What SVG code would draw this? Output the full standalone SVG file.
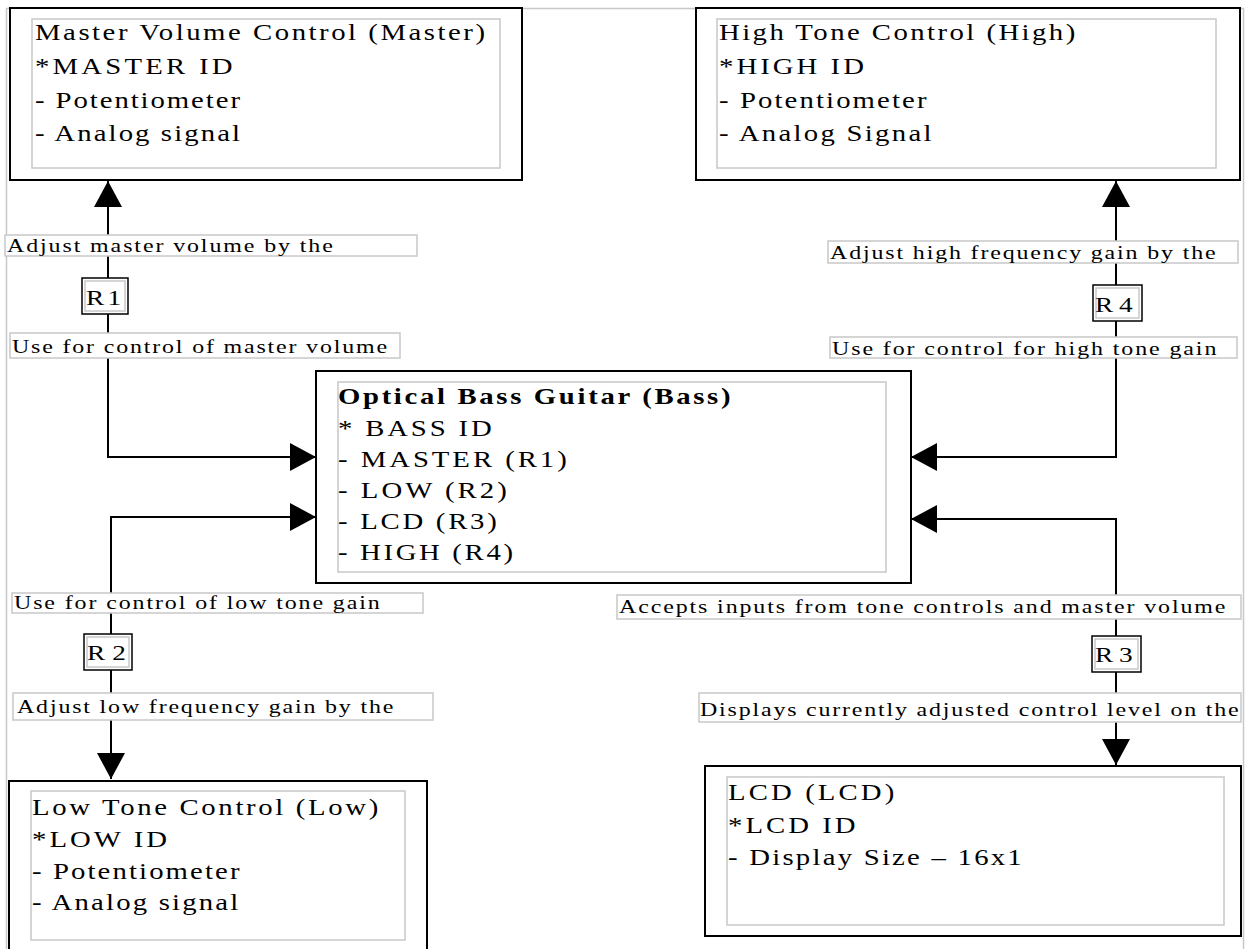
<svg xmlns="http://www.w3.org/2000/svg" width="1246" height="949" viewBox="0 0 1246 949">
<style>
.frame{fill:none;stroke:#c8c8c8;stroke-width:1.5}
.outer{fill:#fff;stroke:#000;stroke-width:2}
.inner{fill:none;stroke:#c8c8c8;stroke-width:1.5}
.t{font-family:"Liberation Serif","Times New Roman",serif;font-size:23px;fill:#000}
.b{font-weight:bold}
.lbl{fill:#fff;stroke:#c8c8c8;stroke-width:1.5}
.lt{font-family:"Liberation Serif","Times New Roman",serif;font-size:18px;fill:#000}
.rb{fill:#fff;stroke:#000;stroke-width:1.5}
.ri{fill:none;stroke:#c8c8c8;stroke-width:1.5}
.rt{font-family:"Liberation Serif","Times New Roman",serif;font-size:21px;fill:#000}
.conn{fill:none;stroke:#000;stroke-width:2}
</style>
<defs>
<marker id="ah" markerUnits="userSpaceOnUse" viewBox="0 0 26 28" markerWidth="26" markerHeight="28" refX="26" refY="14" orient="auto-start-reverse">
<path d="M0,0 L26,14 L0,28 Z" fill="#000"/>
</marker>
</defs>
<rect class="frame" x="6.5" y="8.5" width="1237" height="950"/>
<g id="connectors">
<path class="conn" d="M108,181 V457 H316" marker-start="url(#ah)" marker-end="url(#ah)"/>
<path class="conn" d="M1116,181 V457 H911" marker-start="url(#ah)" marker-end="url(#ah)"/>
<path class="conn" d="M316,517 H111 V779" marker-start="url(#ah)" marker-end="url(#ah)"/>
<path class="conn" d="M911,519 H1116 V765" marker-start="url(#ah)" marker-end="url(#ah)"/>
</g>
<g id="master">
<rect class="outer" x="10" y="8" width="512" height="172"/>
<rect class="inner" x="32" y="19" width="468" height="149"/>
<text class="t" transform="translate(35,40) scale(1.25,1)" textLength="360">Master Volume Control (Master)</text>
<text class="t" transform="translate(35,74) scale(1.25,1)" textLength="158">*MASTER ID</text>
<text class="t" transform="translate(35,108) scale(1.25,1)" textLength="164">- Potentiometer</text>
<text class="t" transform="translate(35,141) scale(1.25,1)" textLength="164">- Analog signal</text>
</g>
<g id="high">
<rect class="outer" x="696" y="8" width="544" height="172"/>
<rect class="inner" x="717" y="19" width="499" height="149"/>
<text class="t" transform="translate(719,40) scale(1.25,1)" textLength="285">High Tone Control (High)</text>
<text class="t" transform="translate(719,74) scale(1.25,1)" textLength="116">*HIGH ID</text>
<text class="t" transform="translate(719,108) scale(1.25,1)" textLength="166">- Potentiometer</text>
<text class="t" transform="translate(719,141) scale(1.25,1)" textLength="170">- Analog Signal</text>
</g>
<g id="bass">
<rect class="outer" x="316" y="371" width="595" height="212"/>
<rect class="inner" x="338" y="382" width="548" height="190"/>
<text class="t b" transform="translate(338,404) scale(1.25,1)" textLength="314">Optical Bass Guitar (Bass)</text>
<text class="t" transform="translate(338,436) scale(1.25,1)" textLength="123">* BASS ID</text>
<text class="t" transform="translate(338,467) scale(1.25,1)" textLength="183">- MASTER (R1)</text>
<text class="t" transform="translate(338,498) scale(1.25,1)" textLength="135">- LOW (R2)</text>
<text class="t" transform="translate(338,529) scale(1.25,1)" textLength="127">- LCD (R3)</text>
<text class="t" transform="translate(338,560) scale(1.25,1)" textLength="140">- HIGH (R4)</text>
</g>
<g id="low">
<rect class="outer" x="9" y="781" width="418" height="175"/>
<rect class="inner" x="31" y="791" width="374" height="149"/>
<text class="t" transform="translate(32,815) scale(1.25,1)" textLength="277">Low Tone Control (Low)</text>
<text class="t" transform="translate(32,847) scale(1.25,1)" textLength="108">*LOW ID</text>
<text class="t" transform="translate(32,879) scale(1.25,1)" textLength="166">- Potentiometer</text>
<text class="t" transform="translate(32,910) scale(1.25,1)" textLength="165">- Analog signal</text>
</g>
<g id="lcd">
<rect class="outer" x="705" y="766" width="536" height="170"/>
<rect class="inner" x="727" y="777" width="497" height="148"/>
<text class="t" transform="translate(728,800) scale(1.25,1)" textLength="133">LCD (LCD)</text>
<text class="t" transform="translate(728,833) scale(1.25,1)" textLength="102">*LCD ID</text>
<text class="t" transform="translate(728,865) scale(1.25,1)" textLength="235">- Display Size – 16x1</text>
</g>
<g id="label-r1-top">
<rect class="lbl" x="5" y="235" width="412" height="21"/>
<text class="lt" transform="translate(7,252) scale(1.33,1)" textLength="245">Adjust master volume by the</text>
</g>
<g id="r1">
<rect class="rb" x="82" y="278" width="46" height="36"/>
<rect class="ri" x="85" y="281" width="40" height="30"/>
<text class="rt" transform="translate(86,305) scale(1.3,1)" textLength="27">R1</text>
</g>
<g id="label-r1-bottom">
<rect class="lbl" x="10" y="333" width="390" height="25"/>
<text class="lt" transform="translate(12,353) scale(1.33,1)" textLength="282">Use for control of master volume</text>
</g>
<g id="label-r4-top">
<rect class="lbl" x="828" y="241" width="410" height="22"/>
<text class="lt" transform="translate(830,259) scale(1.33,1)" textLength="290">Adjust high frequency gain by the</text>
</g>
<g id="r4">
<rect class="rb" x="1093" y="285" width="49" height="36"/>
<rect class="ri" x="1096" y="288" width="43" height="30"/>
<text class="rt" transform="translate(1095,312) scale(1.3,1)" textLength="29">R4</text>
</g>
<g id="label-r4-bottom">
<rect class="lbl" x="830" y="337" width="407" height="21"/>
<text class="lt" transform="translate(832,355) scale(1.33,1)" textLength="289">Use for control for high tone gain</text>
</g>
<g id="label-r2-top">
<rect class="lbl" x="12" y="593" width="411" height="20"/>
<text class="lt" transform="translate(14,609) scale(1.33,1)" textLength="275">Use for control of low tone gain</text>
</g>
<g id="r2">
<rect class="rb" x="84" y="634" width="48" height="36"/>
<rect class="ri" x="87" y="637" width="42" height="30"/>
<text class="rt" transform="translate(87,660) scale(1.3,1)" textLength="30">R2</text>
</g>
<g id="label-r2-bottom">
<rect class="lbl" x="13" y="693" width="420" height="27"/>
<text class="lt" transform="translate(17,713) scale(1.33,1)" textLength="283">Adjust low frequency gain by the</text>
</g>
<g id="label-r3-top">
<rect class="lbl" x="617" y="595" width="624" height="24"/>
<text class="lt" transform="translate(619,613) scale(1.33,1)" textLength="456">Accepts inputs from tone controls and master volume</text>
</g>
<g id="r3">
<rect class="rb" x="1092" y="636" width="49" height="36"/>
<rect class="ri" x="1095" y="639" width="43" height="30"/>
<text class="rt" transform="translate(1095,662) scale(1.3,1)" textLength="29">R3</text>
</g>
<g id="label-r3-bottom">
<rect class="lbl" x="699" y="693" width="542" height="29"/>
<text class="lt" transform="translate(700,716) scale(1.33,1)" textLength="405">Displays currently adjusted control level on the</text>
</g>
</svg>
